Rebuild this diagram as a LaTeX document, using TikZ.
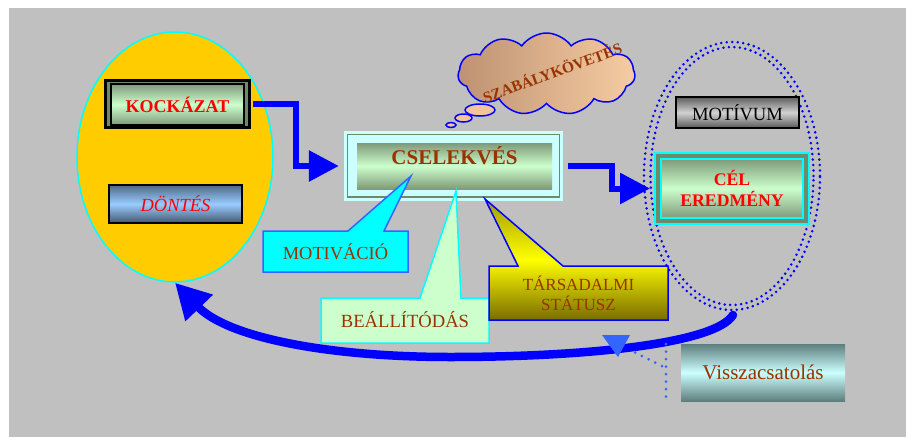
\documentclass[tikz,border=0pt]{standalone}
\usepackage{fontspec}
\setmainfont{Liberation Serif}
\usetikzlibrary{arrows.meta,shapes.geometric,shapes.symbols}

\definecolor{bgray}{HTML}{C0C0C0}
\definecolor{rust}{HTML}{993300}
\definecolor{gold}{HTML}{FFCC00}
\definecolor{sage}{HTML}{6E8A6A}
\definecolor{moss}{HTML}{7F9A7A}
\definecolor{mint}{HTML}{CCFFCC}
\definecolor{pale}{HTML}{CCFFFF}
\definecolor{aqua}{HTML}{00FFFF}
\definecolor{lemon}{HTML}{FFFF00}
\definecolor{royal}{HTML}{3366FF}
\definecolor{slate}{HTML}{5E7E7E}
\definecolor{olive}{HTML}{7A6C00}
\definecolor{olivetop}{HTML}{A09A00}
\definecolor{navytop}{HTML}{4E6888}
\definecolor{navybot}{HTML}{44566E}
\definecolor{skyblue}{HTML}{99CCFF}
\definecolor{greytop}{HTML}{5E5E5E}
\definecolor{greymid}{HTML}{D2D2D2}
\definecolor{greybot}{HTML}{585858}
\definecolor{tanleft}{HTML}{BE9272}
\definecolor{tanright}{HTML}{F6CCA2}
\definecolor{tan}{HTML}{F0C49C}

\tikzset{
  greenbox/.style={top color=moss, bottom color=moss, middle color=mint},
  flow/.style={blue, line width=6pt, line join=miter, -{Triangle[length=30pt,width=30pt]}},
  tagshape/.style={line width=1.5pt, line join=miter},
  bubble/.style={draw=blue, line width=1.5pt, fill=tan},
  ringdots/.style={blue, line width=2.8pt, line cap=round, dash pattern=on 0pt off 5.5pt},
  leader/.style={royal, line width=3pt, line cap=round, dash pattern=on 0pt off 7.5pt},
}

\begin{document}
\begin{tikzpicture}[x=1pt,y=1pt]
  \path[fill=white] (0,0) rectangle (906,-437);
  \path[fill=bgray] (9,-8) rectangle (906,-437);

  % left oval
  \node[ellipse, draw=aqua, line width=1.5pt, fill=gold, minimum width=196pt, minimum height=250pt] (decide) at (175,-157) {};
  \node[draw=black, line width=3pt, fill=sage, minimum width=144pt, minimum height=47pt] (riskbox) at (177.5,-104) {};
  \node[draw=black, line width=2pt, greenbox, minimum width=133pt, minimum height=41pt,
        text=red, font=\bfseries\fontsize{18}{20}\selectfont] (risk) at (177.5,-104.5) {KOCKÁZAT};
  \node[draw=black, line width=2pt, top color=navytop, bottom color=navybot, middle color=skyblue,
        minimum width=133pt, minimum height=38pt, text=red, font=\itshape\fontsize{18.5}{20}\selectfont] (choice) at (175.5,-204) {DÖNTÉS};

  % centre box
  \node[fill=pale, minimum width=219pt, minimum height=70pt] (actbox) at (453.5,-166) {};
  \draw[sage, line width=1.5pt] ([shift={(3.5,-3.5)}]actbox.north west) rectangle ([shift={(-3.5,4)}]actbox.south east);
  \node[greenbox, minimum width=195pt, inner ysep=0pt, text height=21pt, text depth=25pt,
        text=rust, font=\bfseries\fontsize{21}{24}\selectfont] (act) at (454.5,-166) {CSELEKVÉS};

  % thought cloud
  \node[cloud, cloud puffs=11, cloud puff arc=110, cloud ignores aspect, draw=blue, line width=1.5pt,
        left color=tanleft, right color=tanright, minimum width=177pt, minimum height=82pt] (cloud) at (546.5,-74) {};
  \node[rotate=20, text=rust, font=\bfseries\fontsize{15.5}{16}\selectfont] (rule) at (552,-72) {SZABÁLYKÖVETÉS};
  \draw[bubble] (480,-110) ellipse [x radius=15, y radius=6];
  \draw[bubble] (463.5,-118) ellipse [x radius=8.5, y radius=4];
  \draw[bubble] (451,-125) ellipse [x radius=5, y radius=2.5];

  % right ring
  \coordinate (ring) at (732,-176);
  \draw[ringdots] (ring) ellipse [x radius=88, y radius=134];
  \draw[ringdots] (ring) ellipse [x radius=81.5, y radius=129];
  \node[draw=black, line width=2pt, top color=greytop, bottom color=greybot, middle color=greymid,
        minimum width=123pt, minimum height=31pt, font=\fontsize{18.6}{20}\selectfont] (motive) at (737.5,-112.5) {MOTÍVUM};
  \node[draw=aqua, line width=2pt, fill=sage, minimum width=154pt, minimum height=71pt] (goalbox) at (732,-188.5) {};
  \node[draw=aqua, line width=2pt, greenbox, minimum width=142pt, minimum height=59pt, align=center,
        text=red, font=\bfseries\fontsize{17.7}{21}\selectfont] (goal) at (732,-188.5) {CÉL\\EREDMÉNY};

  \draw[flow, shorten <=2pt, shorten >=5pt] (riskbox.east) -- ++(45,0) |- (actbox.west);
  \draw[flow, shorten <=5pt, shorten >=4pt] (actbox.east) -- ++(49,0) |- (goalbox.west);

  % callouts
  \draw[tagshape, draw=royal, fill=aqua] (263,-231) -- (348,-231) -- (411,-176) -- (384,-231) -- (408,-231) -- (408,-272) -- (263,-272) -- cycle;
  \node[text=rust, font=\fontsize{18.4}{20}\selectfont] (motiv) at (335.5,-251.5) {MOTIVÁCIÓ};
  \draw[tagshape, draw=aqua, fill=mint] (321,-298) -- (420,-298) -- (456,-191) -- (461,-298) -- (489,-298) -- (489,-343) -- (321,-343) -- cycle;
  \node[text=rust, font=\fontsize{18.6}{20}\selectfont] (attitude) at (405,-320) {BEÁLLÍTÓDÁS};
  \draw[tagshape, draw=blue, top color=olivetop, bottom color=olive, middle color=lemon]
    (489,-266) -- (518,-266) -- (485,-199) -- (563,-266) -- (668,-266) -- (668,-320) -- (489,-320) -- cycle;
  \node[text=rust, align=center, font=\fontsize{17}{20}\selectfont] (status) at (578.5,-293) {TÁRSADALMI\\STÁTUSZ};

  % feedback
  \coordinate (ringbot) at (733,-315);
  \draw[blue, line width=8.5pt, line cap=round, -{Triangle[length=35pt,width=36pt]}]
    (ringbot) .. controls (716,-343) and (590,-357) .. (450,-357)
    .. controls (330,-357) and (228,-338) .. (decide.south);
  \node[top color=slate, bottom color=slate, middle color=pale, minimum width=164pt, minimum height=57pt,
        text=rust, font=\fontsize{21}{24}\selectfont] (fbk) at (763,-372.5) {Visszacsatolás};
  \coordinate (lt) at (666,-344);
  \coordinate (lb) at (666,-401);
  \coordinate (lj) at (662,-366);
  \coordinate (lh) at (630,-350);
  \draw[leader] (lt) -- (lb);
  \draw[leader] (lj) -- (lh);
  \fill[royal] (602,-335) -- (630,-335) -- (618,-357) -- cycle;
\end{tikzpicture}
\end{document}
